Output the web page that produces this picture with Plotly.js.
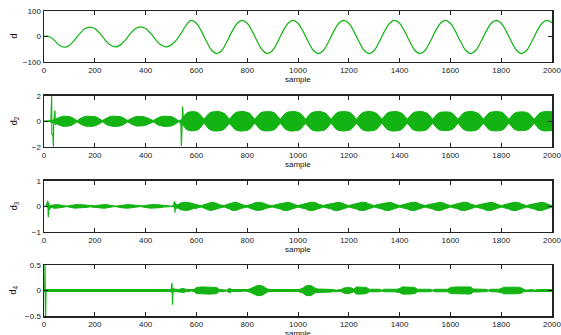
<!DOCTYPE html>
<html><head><meta charset="utf-8">
<script src="https://cdn.plot.ly/plotly-3.0.1.min.js"></script>
<style>html,body{margin:0;padding:0;background:#fff}#chart{width:561px;height:335px}</style>
</head><body><div id="chart"></div>
<script>
// ---- data ----
var xTicks = [0,200,400,600,800,1000,1200,1400,1600,1800,2000];
var xTickLabels = ['0','200','400','600','800','1000','1200','1400','1600','1800','2000'];
var xLabel = 'sample';
var yLabels = ['d','d<sub>2</sub>','d<sub>3</sub>','d<sub>4</sub>'];
var yTicks1 = [-100,0,100], yTicks2 = [-2,0,2], yTicks3 = [-1,0,1], yTicks4 = [-0.5,0,0.5];

// d (smooth wave) sampled every 20 samples
var d1Step = 20;
var d1Values = [0,0,-14,-34,-42,-35,-14,10,30,37,
  31,12,-13,-33,-41,-34,-14,11,31,38,
  31,12,-13,-33,-41,-34,-15,12,45,63,
  52,20,-20,-54,-67,-55,-21,19,51,63,
  52,20,-20,-54,-67,-55,-21,19,51,63,
  52,20,-20,-54,-67,-55,-21,19,51,63,
  52,20,-20,-54,-67,-55,-21,19,51,63,
  52,20,-20,-54,-67,-55,-21,19,51,63,
  52,20,-20,-54,-67,-55,-21,19,51,63,
  52,20,-20,-54,-67,-55,-21,19,51,63,
  54];

// envelopes (half-width of the dense oscillation) sampled every 10 samples
var envStep = 10;
var d2Env = [0,0,0,0.05,0.12,0.22,0.32,0.38,0.4,0.4,
  0.37,0.3,0.18,0.05,0.18,0.3,0.37,0.4,0.41,0.4,
  0.37,0.3,0.18,0.05,0.18,0.3,0.37,0.4,0.41,0.4,
  0.37,0.3,0.18,0.05,0.18,0.3,0.36,0.38,0.38,0.36,
  0.32,0.25,0.15,0.05,0.18,0.3,0.37,0.4,0.41,0.4,
  0.37,0.3,0.18,0.05,0.1,0.4,0.62,0.72,0.76,0.76,
  0.72,0.62,0.4,0.15,0.4,0.62,0.72,0.76,0.77,0.76,
  0.72,0.62,0.4,0.15,0.4,0.62,0.72,0.76,0.77,0.76,
  0.72,0.62,0.4,0.15,0.4,0.62,0.72,0.75,0.76,0.75,
  0.72,0.62,0.4,0.15,0.4,0.62,0.72,0.76,0.77,0.76,
  0.72,0.62,0.4,0.15,0.4,0.62,0.72,0.76,0.77,0.76,
  0.72,0.62,0.4,0.15,0.4,0.62,0.72,0.75,0.76,0.75,
  0.72,0.62,0.4,0.15,0.4,0.62,0.72,0.76,0.77,0.76,
  0.72,0.62,0.4,0.15,0.4,0.62,0.72,0.76,0.77,0.76,
  0.72,0.62,0.4,0.15,0.4,0.62,0.72,0.76,0.77,0.76,
  0.72,0.62,0.4,0.15,0.4,0.6,0.7,0.73,0.74,0.73,
  0.7,0.6,0.4,0.15,0.4,0.62,0.72,0.76,0.77,0.76,
  0.72,0.62,0.4,0.15,0.4,0.62,0.72,0.75,0.76,0.75,
  0.72,0.62,0.4,0.15,0.4,0.6,0.7,0.73,0.74,0.73,
  0.7,0.6,0.4,0.15,0.4,0.62,0.72,0.76,0.77,0.76,
  0.74];
var d3Env = [0,0.02,0.03,0.05,0.07,0.07,0.06,0.05,0.03,0.01,
  0.03,0.05,0.07,0.07,0.07,0.06,0.05,0.04,0.02,0.01,
  0.02,0.04,0.06,0.07,0.07,0.06,0.04,0.02,0.01,0.02,
  0.04,0.06,0.07,0.07,0.06,0.05,0.04,0.02,0.01,0.02,
  0.04,0.06,0.07,0.07,0.07,0.06,0.05,0.03,0.01,0.01,
  0.01,0.02,0.04,0.08,0.14,0.16,0.16,0.15,0.12,0.08,
  0.08,0.04,0.03,0.07,0.1,0.15,0.16,0.15,0.1,0.07,
  0.04,0.03,0.07,0.1,0.15,0.16,0.15,0.1,0.07,0.04,
  0.03,0.07,0.09,0.14,0.16,0.16,0.14,0.09,0.06,0.04,
  0.03,0.06,0.08,0.1,0.15,0.16,0.16,0.14,0.09,0.06,
  0.03,0.06,0.08,0.1,0.15,0.16,0.16,0.14,0.09,0.06,
  0.03,0.06,0.08,0.1,0.15,0.16,0.16,0.14,0.09,0.06,
  0.03,0.06,0.08,0.1,0.15,0.16,0.16,0.14,0.09,0.06,
  0.03,0.06,0.08,0.1,0.15,0.16,0.16,0.14,0.09,0.06,
  0.03,0.06,0.08,0.1,0.15,0.16,0.16,0.14,0.09,0.06,
  0.03,0.06,0.08,0.1,0.15,0.16,0.16,0.14,0.09,0.06,
  0.03,0.06,0.08,0.1,0.15,0.16,0.16,0.14,0.09,0.06,
  0.03,0.06,0.08,0.1,0.15,0.16,0.16,0.14,0.09,0.06,
  0.03,0.06,0.08,0.1,0.15,0.16,0.16,0.14,0.09,0.06,
  0.03,0.06,0.08,0.1,0.15,0.16,0.16,0.14,0.09,0.06,
  0.03];
var d4Env = [0.02,0.02,0.02,0.02,0.02,0.02,0.02,0.02,0.02,0.008,
  0.02,0.02,0.02,0.02,0.02,0.02,0.02,0.02,0.02,0.02,
  0.008,0.02,0.02,0.02,0.02,0.02,0.02,0.02,0.02,0.02,
  0.02,0.008,0.02,0.02,0.02,0.02,0.02,0.02,0.02,0.02,
  0.008,0.02,0.008,0.02,0.02,0.02,0.02,0.02,0.02,0.02,
  0.02,0.03,0.02,0.02,0.035,0.04,0.02,0.02,0.008,0.02,
  0.06,0.07,0.07,0.07,0.07,0.07,0.07,0.07,0.06,0.02,
  0.02,0.02,0.008,0.045,0.02,0.02,0.02,0.02,0.02,0.008,
  0.02,0.03,0.05,0.08,0.1,0.1,0.09,0.06,0.03,0.02,
  0.02,0.02,0.02,0.02,0.008,0.02,0.02,0.02,0.02,0.02,
  0.02,0.03,0.05,0.09,0.1,0.1,0.07,0.04,0.03,0.03,
  0.03,0.03,0.03,0.03,0.02,0.008,0.02,0.02,0.05,0.06,
  0.06,0.05,0.025,0.07,0.07,0.07,0.07,0.06,0.025,0.025,
  0.025,0.025,0.025,0.008,0.025,0.025,0.025,0.025,0.025,0.025,
  0.04,0.07,0.07,0.07,0.07,0.07,0.06,0.025,0.025,0.025,
  0.025,0.025,0.025,0.008,0.025,0.025,0.025,0.025,0.025,0.025,
  0.06,0.07,0.07,0.07,0.07,0.07,0.07,0.07,0.07,0.03,
  0.025,0.025,0.025,0.025,0.025,0.008,0.025,0.025,0.025,0.025,
  0.04,0.065,0.065,0.065,0.065,0.065,0.065,0.065,0.05,0.02,
  0.008,0.02,0.02,0.008,0.02,0.02,0.02,0.02,0.02,0.02,
  0.02];

// isolated transients
var d2SpikeX = [0,24,27,30,31,33,35,37,38,40,43,45,48];
var d2SpikeY = [0,0,-0.1,2.0,-1.0,-1.1,-1.0,-2.0,-0.2,0.3,0.85,-0.3,0.2];
var d2Spike2X = [536,539,541,544,546,549];
var d2Spike2Y = [0.1,-0.3,-1.95,0.5,1.15,-0.2];
var d3SpikeX = [8,12,15,17,19,22,26];
var d3SpikeY = [0,0.1,0.22,-0.43,0.15,-0.15,0.05];
var d3Spike2X = [510,513,516,518,521];
var d3Spike2Y = [0,0.2,-0.25,0.15,-0.1];
var d4SpikeX = [3,4,6,8];
var d4SpikeY = [0,0.6,-0.6,0];
var d4Spike2X = [500,504,506,508,511];
var d4Spike2Y = [0,0.15,-0.28,0.05,0];

// ---- build ----
var GREEN = '#12b312';
function xsFor(arr, step){ return arr.map(function(_, i){ return i*step; }); }
function band(env, step, xa, ya){
  var xs = xsFor(env, step);
  var up = env.slice();
  var lo = env.map(function(v){ return -v; });
  return {x: xs.concat(xs.slice().reverse()), y: up.concat(lo.reverse()),
    xaxis: xa, yaxis: ya, type: 'scatter', mode: 'lines', fill: 'toself',
    fillcolor: GREEN, line: {color: GREEN, width: 1}, hoverinfo: 'skip', showlegend: false};
}
function line(x, y, xa, ya, shape){
  return {x: x, y: y, xaxis: xa, yaxis: ya, type: 'scatter', mode: 'lines',
    line: {color: GREEN, width: 1.2, shape: shape || 'linear'}, showlegend: false};
}
var traces = [
  line(xsFor(d1Values, d1Step), d1Values, 'x', 'y', 'spline'),
  band(d2Env, envStep, 'x2', 'y2'),
  line(d2SpikeX, d2SpikeY, 'x2', 'y2'),
  line(d2Spike2X, d2Spike2Y, 'x2', 'y2'),
  band(d3Env, envStep, 'x3', 'y3'),
  line(d3SpikeX, d3SpikeY, 'x3', 'y3'),
  line(d3Spike2X, d3Spike2Y, 'x3', 'y3'),
  band(d4Env, envStep, 'x4', 'y4'),
  line(d4SpikeX, d4SpikeY, 'x4', 'y4'),
  line(d4Spike2X, d4Spike2Y, 'x4', 'y4')
];

var FONT = {family: 'Liberation Sans, Arial, sans-serif', size: 8, color: '#222'};
function xax(anchor){
  return {anchor: anchor, range: [0, 2000], tickvals: xTicks, ticktext: xTickLabels,
    ticklabeloverflow: 'allow',
    ticks: 'inside', ticklen: 4, tickcolor: '#222', showline: true, mirror: 'ticks',
    linecolor: '#222', linewidth: 1.5, showgrid: false, zeroline: false, tickfont: FONT};
}
function yax(anchor, dom, range, ticks){
  return {anchor: anchor, domain: dom, range: range, tickvals: ticks,
    ticks: 'inside', ticklen: 4, tickcolor: '#222', showline: true, mirror: 'ticks',
    linecolor: '#222', linewidth: 1.5, showgrid: false, zeroline: false, tickfont: FONT};
}
var annotations = [];
['', '2', '3', '4'].forEach(function(s, i){
  annotations.push({text: xLabel, xref: 'x' + s + ' domain', yref: 'y' + s + ' domain',
    x: 0.5, y: 0, yshift: (i === 3 ? -17 : -18), xanchor: 'center', yanchor: 'middle', showarrow: false,
    font: {family: FONT.family, size: 8, color: '#111'}});
  annotations.push({text: yLabels[i], xref: 'x' + s + ' domain', yref: 'y' + s + ' domain',
    x: 0, y: 0.5, xshift: -30, xanchor: 'center', yanchor: 'middle', textangle: -90, showarrow: false,
    font: {family: FONT.family, size: 9, color: '#111'}});
});
var layout = {
  width: 561, height: 335, margin: {l: 44, r: 9, t: 11, b: 19},
  paper_bgcolor: '#fff', plot_bgcolor: '#fff', showlegend: false,
  xaxis: xax('y'), xaxis2: xax('y2'), xaxis3: xax('y3'), xaxis4: xax('y4'),
  yaxis: yax('x', [0.833, 1], [-100, 100], yTicks1),
  yaxis2: yax('x2', [0.555, 0.722], [-2, 2], yTicks2),
  yaxis3: yax('x3', [0.276, 0.443], [-1, 1], yTicks3),
  yaxis4: yax('x4', [0, 0.167], [-0.5, 0.5], yTicks4),
  annotations: annotations
};
Plotly.newPlot('chart', traces, layout, {staticPlot: true, displayModeBar: false});
</script></body></html>
